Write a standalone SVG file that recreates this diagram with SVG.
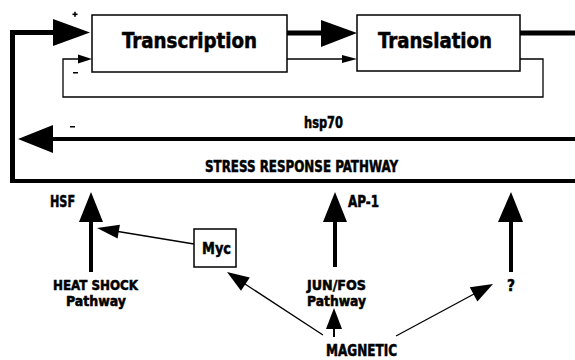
<svg xmlns="http://www.w3.org/2000/svg" width="575" height="360" viewBox="0 0 575 360">
<style>
text{font-family:"Liberation Sans Narrow","DejaVu Sans Condensed","Liberation Sans",sans-serif;font-weight:bold;fill:#000;stroke:#000;stroke-width:0.5}
.box{fill:#fff;stroke:#000;stroke-width:1.5}
.thick{stroke:#000;stroke-width:5;fill:none}
.med{stroke:#000;stroke-width:4;fill:none}
.thin{stroke:#000;stroke-width:1.3;fill:none}
.head{fill:#000;stroke:none}
</style>
<rect width="575" height="360" fill="#fff"/>
<g id="connectors">
  <path class="thick" d="M12.5,183 V32.5 H60"/>
  <polygon class="head" points="53,19 90,32.5 53,46"/>
  <path class="thick" d="M287,33 H326"/>
  <polygon class="head" points="321,20 357,33 321,47"/>
  <path class="thin" d="M287,59 H345"/>
  <polygon class="head" points="342,55 357,59 342,63"/>
  <path class="thick" d="M520,33 H575"/>
  <path class="thin" d="M520,59 H543 V97 H63 V59 H82"/>
  <polygon class="head" points="78,54.5 92,59 78,63.5"/>
  <path class="med" d="M50,139 H575"/>
  <polygon class="head" points="18,139 53,125 53,153"/>
  <path class="med" d="M10,181 H575"/>
  <path class="med" d="M91,218 V272"/>
  <polygon class="head" points="91,192 79,222 103,222"/>
  <path class="thin" d="M194,244 L118,231.5"/>
  <polygon class="head" points="97,228 119.9,224.7 117.6,238.5"/>
  <path class="thin" d="M323,335 L245,284"/>
  <polygon class="head" points="227,272 249.8,277.4 241,290.8"/>
  <path class="med" d="M335,218 V267"/>
  <polygon class="head" points="335,192 323,222 347,222"/>
  <path class="thin" d="M334,337 V326" style="stroke-width:2"/>
  <polygon class="head" points="334,308 326,329 342,329"/>
  <path class="thin" d="M396,336 L474,294"/>
  <polygon class="head" points="493,284 477.4,301.5 469.8,287.3"/>
  <path class="med" d="M511,218 V272"/>
  <polygon class="head" points="511,192 498,222 523,222"/>
</g>
<g id="signs">
  <rect x="72.5" y="13.5" width="5" height="1.6" fill="#000"/>
  <rect x="74.2" y="11.8" width="1.6" height="5" fill="#000"/>
  <rect x="73" y="72" width="5" height="1.5" fill="#000"/>
  <rect x="70" y="126" width="5" height="1.5" fill="#000"/>
</g>
<g id="transcription">
  <rect class="box" x="92" y="15" width="195" height="57"/>
  <text x="122" y="48" font-size="21" textLength="135" lengthAdjust="spacingAndGlyphs">Transcription</text>
</g>
<g id="translation">
  <rect class="box" x="357" y="15" width="163" height="56"/>
  <text x="378" y="48" font-size="21" textLength="114" lengthAdjust="spacingAndGlyphs">Translation</text>
</g>
<g id="hsp70">
  <text x="304" y="128" font-size="15" textLength="39" lengthAdjust="spacingAndGlyphs">hsp70</text>
</g>
<g id="stress">
  <text x="205" y="172" font-size="16.5" textLength="193" lengthAdjust="spacingAndGlyphs">STRESS RESPONSE PATHWAY</text>
</g>
<g id="hsf">
  <text x="50" y="207" font-size="16" textLength="25" lengthAdjust="spacingAndGlyphs">HSF</text>
</g>
<g id="ap1">
  <text x="348" y="207" font-size="16" textLength="31" lengthAdjust="spacingAndGlyphs">AP-1</text>
</g>
<g id="myc">
  <rect class="box" x="194" y="229" width="42" height="38"/>
  <text x="202" y="254" font-size="16" textLength="29" lengthAdjust="spacingAndGlyphs">Myc</text>
</g>
<g id="heatshock">
  <text x="53" y="290" font-size="14" textLength="85" lengthAdjust="spacingAndGlyphs">HEAT SHOCK</text>
  <text x="66" y="306" font-size="14" textLength="60" lengthAdjust="spacingAndGlyphs">Pathway</text>
</g>
<g id="junfos">
  <text x="307" y="290" font-size="14" textLength="59" lengthAdjust="spacingAndGlyphs">JUN/FOS</text>
  <text x="307" y="306" font-size="14" textLength="59" lengthAdjust="spacingAndGlyphs">Pathway</text>
</g>
<g id="question">
  <text x="507" y="291" font-size="15" textLength="8" lengthAdjust="spacingAndGlyphs">?</text>
</g>
<g id="magnetic">
  <text x="326" y="356" font-size="15" textLength="71" lengthAdjust="spacingAndGlyphs">MAGNETIC</text>
</g>
</svg>
